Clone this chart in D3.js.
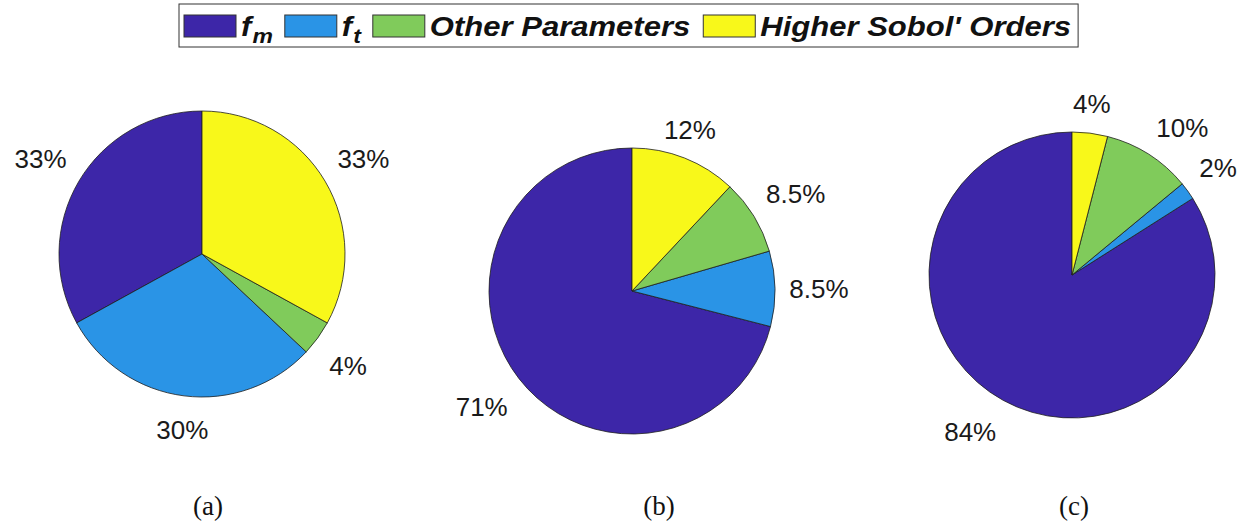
<!DOCTYPE html>
<html>
<head>
<meta charset="utf-8">
<script src="https://cdn.jsdelivr.net/npm/d3@7"></script>
<style>
  html, body { margin: 0; padding: 0; background: #fff; }
  svg { display: block; }
</style>
</head>
<body>
<svg id="chart" width="1241" height="531"></svg>
<script>
// Share of the output variance (percent) per case, in the order:
// f_m, f_t, other parameters, higher Sobol' orders
const seriesNames = ["f_m", "f_t", "Other Parameters", "Higher Sobol' Orders"];
const panelLabels = ["(a)", "(b)", "(c)"];
const caseA = [33, 30, 4, 33];
const caseB = [71, 8.5, 8.5, 12];
const caseC = [84, 2, 10, 4];
const sliceColors = ["#3d26a8", "#2a94e6", "#80cb5b", "#f8f81a"];

const cases = [caseA, caseB, caseC];

// panel layout
const panels = [
  { cx: 202, cy: 254, capX: 208 },
  { cx: 632, cy: 291, capX: 659 },
  { cx: 1072, cy: 275, capX: 1074 }
];
const R = 143;
const captionY = 515;

const svg = d3.select("#chart");

const color = d3.scaleOrdinal().domain(d3.range(seriesNames.length)).range(sliceColors);

// slices run counter-clockwise from twelve o'clock
const pie = d3.pie()
  .sort(null)
  .value(d => d)
  .startAngle(0)
  .endAngle(-2 * Math.PI);

const arc = d3.arc().innerRadius(0).outerRadius(R);

cases.forEach((values, p) => {
  const pan = panels[p];
  const g = svg.append("g").attr("transform", `translate(${pan.cx},${pan.cy})`);
  const slices = pie(values.map((v, i) => v));

  g.selectAll("path.slice")
    .data(slices)
    .join("path")
    .attr("class", "slice")
    .attr("d", arc)
    .attr("fill", (d, i) => color(i))
    .attr("stroke", "#1e1e1e")
    .attr("stroke-width", 0.8)
    .attr("stroke-linejoin", "round");

  // percentage labels just outside the rim, aligned away from the pie
  g.selectAll("text.pct")
    .data(slices)
    .join("text")
    .attr("class", "pct")
    .each(function (d) {
      const mid = (d.startAngle + d.endAngle) / 2;
      const ux = Math.sin(mid), uy = -Math.cos(mid);
      const x = 1.1 * R * ux, y = 1.1 * R * uy;
      const anchor = Math.abs(ux) < 0.42 ? "middle" : (ux > 0 ? "start" : "end");
      let dy;
      if (uy < -0.2) dy = -5.5;        // above the centre: text sits on the point
      else if (uy > 0.2) dy = 28.5;    // below: text hangs from the point
      else dy = 9.3;                    // beside: vertically centred
      d3.select(this)
        .attr("x", x)
        .attr("y", y + dy)
        .attr("text-anchor", anchor)
        .text(d.data + "%");
    })
    .attr("font-family", "'Liberation Sans', Arial, Helvetica, sans-serif")
    .attr("font-size", 26)
    .attr("fill", "#1a1a1a");

  svg.append("text")
    .attr("x", pan.capX)
    .attr("y", captionY)
    .attr("text-anchor", "middle")
    .attr("font-family", "'Liberation Serif', 'Times New Roman', serif")
    .attr("font-size", 27)
    .attr("fill", "#111")
    .text(panelLabels[p]);
});

// legend across the top
const legend = svg.append("g");
const legendBox = legend.append("rect")
  .attr("fill", "#fff")
  .attr("stroke", "#333")
  .attr("stroke-width", 1);

const boxLeft = 179, boxTop = 4, boxHeight = 43;
const swW = 52, swH = 22, swY = 15, textBase = 36;
const stretch = 1.15;
let cursor = boxLeft + 5;

seriesNames.forEach((name, i) => {
  legend.append("rect")
    .attr("x", cursor)
    .attr("y", swY)
    .attr("width", swW)
    .attr("height", swH)
    .attr("fill", color(i))
    .attr("stroke", "#333")
    .attr("stroke-width", 1);
  cursor += swW + 5;

  const tg = legend.append("g")
    .attr("transform", `translate(${cursor},${textBase}) scale(${stretch},1)`);
  const t = tg.append("text")
    .attr("x", 0)
    .attr("y", 0)
    .attr("font-family", "'Liberation Sans', Arial, Helvetica, sans-serif")
    .attr("font-size", 27)
    .attr("font-weight", "bold")
    .attr("font-style", "italic")
    .attr("fill", "#111");
  const parts = name.split("_");
  t.append("tspan").text(parts[0]);
  if (parts.length > 1) {
    t.append("tspan")
      .attr("font-size", 20)
      .attr("dy", 7)
      .attr("dx", 1)
      .text(parts[1]);
  }
  cursor += t.node().getComputedTextLength() * stretch + 13;
});

legendBox
  .attr("x", boxLeft)
  .attr("y", boxTop)
  .attr("width", cursor - 13 + 7 - boxLeft)
  .attr("height", boxHeight);
</script>
</body>
</html>
